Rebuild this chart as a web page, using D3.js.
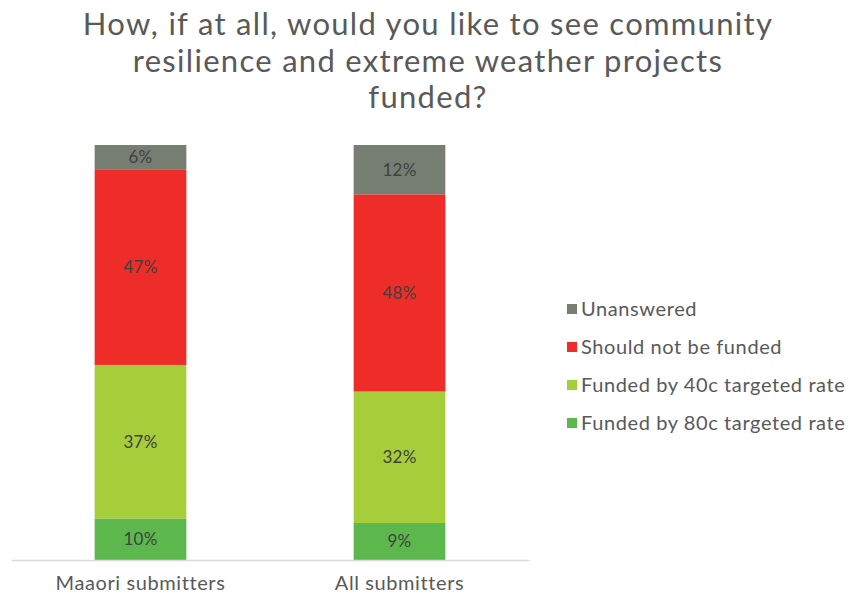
<!DOCTYPE html>
<html>
<head>
<meta charset="utf-8">
<script src="https://cdn.jsdelivr.net/npm/d3@7"></script>
<style>
  html, body { margin: 0; padding: 0; background: #fff; }
  svg { display: block; font-family: Lato, "Open Sans", sans-serif; }
</style>
</head>
<body>
<svg id="chart" width="850" height="598"></svg>
<script>
// Survey groups (x axis)
const categories = ["Maaori submitters", "All submitters"];
// Response options, bottom to top of each stack
const seriesNames = ["Funded by 80c targeted rate", "Funded by 40c targeted rate", "Should not be funded", "Unanswered"];
const seriesColors = ["#5cb84c", "#a6cd3a", "#ee2d29", "#767e72"];
// Share of each group (percent), one array per response option
const funded80 = [10, 9];
const funded40 = [37, 32];
const notFunded = [47, 48];
const unanswered = [6, 12];
const titleLines = ["How, if at all, would you like to see community", "resilience and extreme weather projects", "funded?"];

const svg = d3.select("#chart");
const seriesValues = [funded80, funded40, notFunded, unanswered];

// Build rows for the stack layout; each bar is shown as a 100% stack
const rows = categories.map((c, i) => {
  const row = { category: c };
  seriesNames.forEach((s, j) => { row[s] = seriesValues[j][i]; });
  row.total = d3.sum(seriesValues, v => v[i]);
  return row;
});
const normRows = rows.map(r => {
  const o = { category: r.category };
  seriesNames.forEach(s => { o[s] = r[s] / r.total; });
  return o;
});
const stacked = d3.stack().keys(seriesNames)(normRows);

const x = d3.scaleBand().domain(categories).range([11, 529]).paddingInner(0.646).paddingOuter(0.323);
const y = d3.scaleLinear().domain([0, 1]).range([560, 145]);
const color = d3.scaleOrdinal().domain(seriesNames).range(seriesColors);

// Title
svg.append("g").selectAll("text").data(titleLines).join("text")
  .attr("x", 428).attr("y", (d, i) => 35 + i * 36.5)
  .attr("text-anchor", "middle")
  .attr("fill", "#595959")
  .style("font-size", "31px")
  .style("letter-spacing", "1.3px")
  .text(d => d);

// Stacked segments
const layer = svg.append("g").selectAll("g").data(stacked).join("g")
  .attr("fill", d => color(d.key));
layer.selectAll("rect").data(d => d.map(p => ({ p, key: d.key }))).join("rect")
  .attr("x", d => x(d.p.data.category))
  .attr("width", x.bandwidth())
  .attr("y", d => y(d.p[1]))
  .attr("height", d => y(d.p[0]) - y(d.p[1]));

// Segment labels
layer.selectAll("text").data(d => d.map((p, i) => ({ p, key: d.key, i }))).join("text")
  .attr("x", d => x(d.p.data.category) + x.bandwidth() / 2)
  .attr("y", d => (y(d.p[0]) + y(d.p[1])) / 2)
  .attr("dy", "0.35em")
  .attr("text-anchor", "middle")
  .attr("fill", "#404040")
  .style("font-size", "17px")
  .style("letter-spacing", "0.3px")
  .text(d => rows[d.i][d.key] + "%");

// Category axis
const axis = svg.append("g").attr("transform", "translate(0,560)")
  .call(d3.axisBottom(x).tickSize(0).tickPadding(16));
axis.select(".domain").attr("stroke", "#d9d9d9").attr("stroke-width", 1.5);
axis.selectAll("text").attr("fill", "#595959").style("font-size", "20px")
  .style("letter-spacing", "0.6px")
  .style("font-family", "Lato, 'Open Sans', sans-serif");

// Legend, top entry is the top of the stack
const legendItems = seriesNames.slice().reverse();
const legend = svg.append("g").selectAll("g").data(legendItems).join("g")
  .attr("transform", (d, i) => `translate(567, ${309 + i * 38})`);
legend.append("rect").attr("x", 0).attr("y", -5).attr("width", 10).attr("height", 10)
  .attr("fill", d => color(d));
legend.append("text").attr("x", 14).attr("y", 0).attr("dy", "0.35em")
  .attr("fill", "#595959").style("font-size", "20px")
  .style("letter-spacing", "0.6px")
  .text(d => d);
</script>
</body>
</html>
